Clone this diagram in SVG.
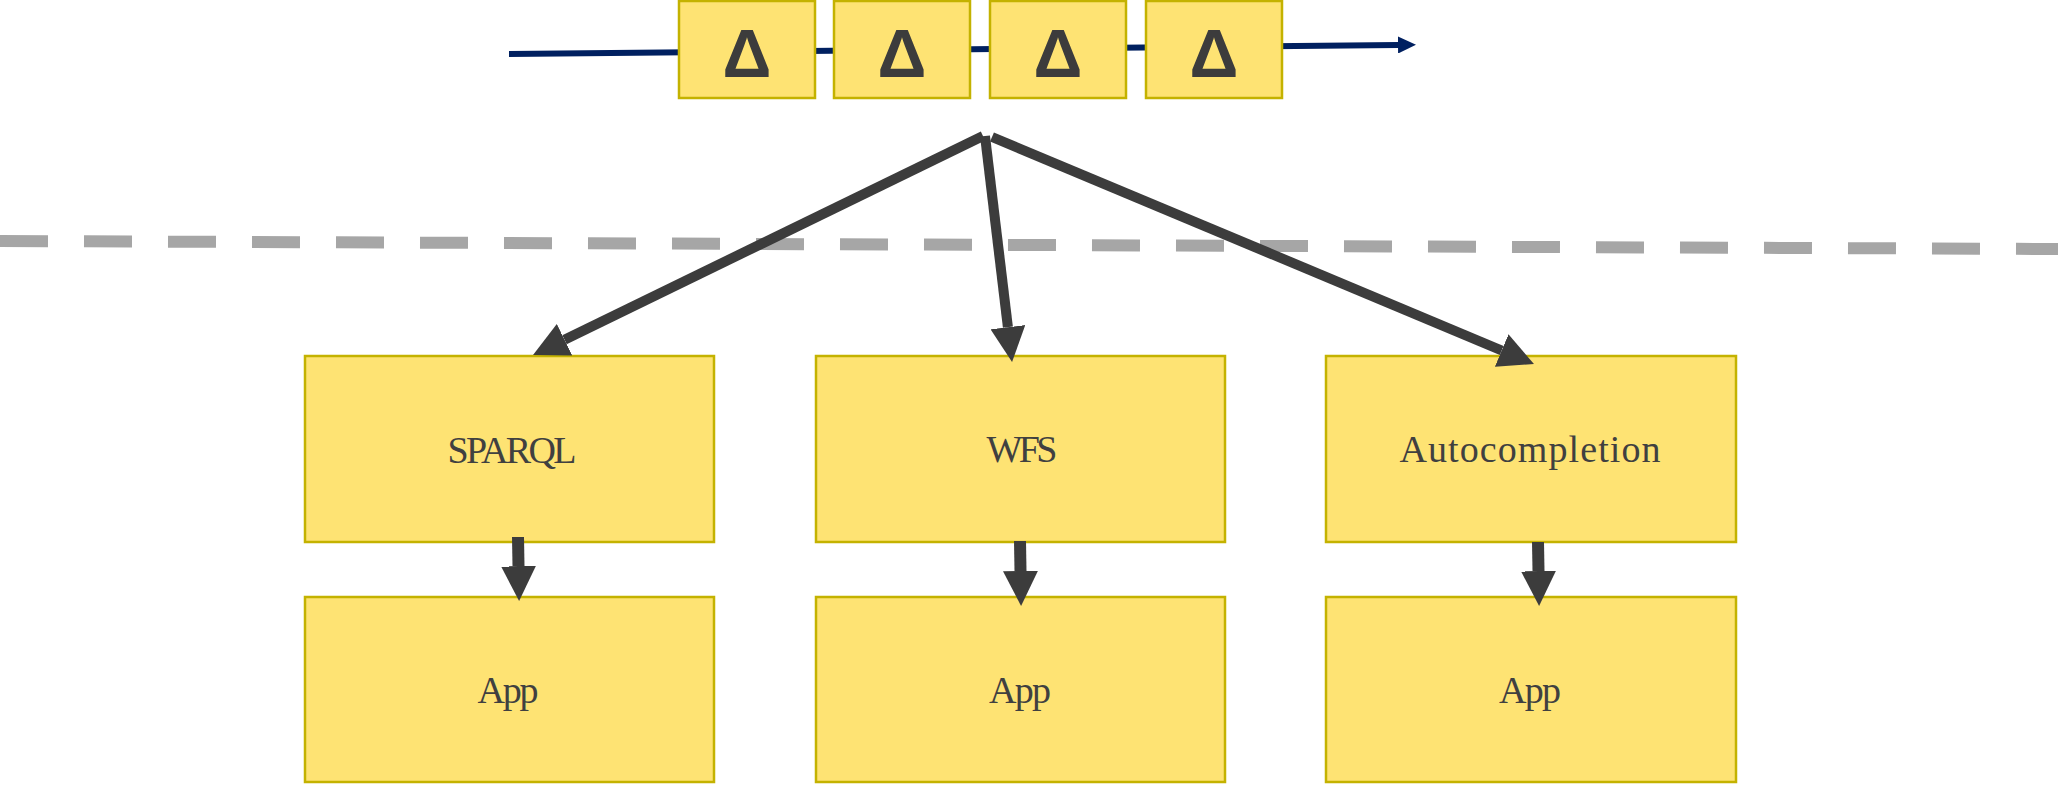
<svg xmlns="http://www.w3.org/2000/svg" width="2058" height="785" viewBox="0 0 2058 785">
<defs>
<style>
.box{fill:#FEE373;stroke:#C4B200;stroke-width:2.5}
.delta{font-family:"Liberation Sans",Arial,sans-serif;font-weight:bold;font-size:68px;fill:#3C3C3C;text-anchor:middle}
.lbl{font-family:"Liberation Serif","Times New Roman",serif;font-size:38px;fill:#404040;text-anchor:middle}
.conn{stroke:#3C3C3C;fill:none;stroke-width:10;marker-end:url(#ah)}
.stem{stroke:#3C3C3C;fill:none;stroke-width:12;marker-end:url(#ah)}
</style>
<marker id="ah" viewBox="0 -17.5 35 35" refX="0" refY="0" markerWidth="35" markerHeight="35" markerUnits="userSpaceOnUse" orient="auto">
<path d="M0,-17.5 L35,0 L0,17.5 Z" fill="#3C3C3C"/>
</marker>
<marker id="bh" viewBox="0 -8.5 18 17" refX="0" refY="0" markerWidth="18" markerHeight="17" markerUnits="userSpaceOnUse" orient="auto">
<path d="M0,-8.5 L18,0 L0,8.5 Z" fill="#002060"/>
</marker>
</defs>
<g id="divider">
<line x1="0" y1="241" x2="2058" y2="249" stroke="#A6A6A6" stroke-width="12" stroke-dasharray="48 36"/>
</g>
<g id="timeline">
<line x1="509" y1="54" x2="1398" y2="45" stroke="#002060" stroke-width="6" marker-end="url(#bh)"/>
</g>
<g id="delta1"><rect class="box" x="679" y="1" width="136" height="97"/><text class="delta" x="747" y="77">Δ</text></g>
<g id="delta2"><rect class="box" x="834" y="1" width="136" height="97"/><text class="delta" x="902" y="77">Δ</text></g>
<g id="delta3"><rect class="box" x="990" y="1" width="136" height="97"/><text class="delta" x="1058" y="77">Δ</text></g>
<g id="delta4"><rect class="box" x="1146" y="1" width="136" height="97"/><text class="delta" x="1214" y="77">Δ</text></g>
<g id="sparql"><rect class="box" x="305" y="356" width="409" height="186"/><text class="lbl" x="512" y="463" textLength="129" lengthAdjust="spacing">SPARQL</text></g>
<g id="wfs"><rect class="box" x="816" y="356" width="409" height="186"/><text class="lbl" x="1022" y="462" textLength="71" lengthAdjust="spacing">WFS</text></g>
<g id="autocompletion"><rect class="box" x="1326" y="356" width="410" height="186"/><text class="lbl" x="1530" y="462" textLength="261" lengthAdjust="spacing">Autocompletion</text></g>
<g id="app1"><rect class="box" x="305" y="597" width="409" height="185"/><text class="lbl" x="508" y="703" textLength="61" lengthAdjust="spacing">App</text></g>
<g id="app2"><rect class="box" x="816" y="597" width="409" height="185"/><text class="lbl" x="1020" y="703" textLength="62" lengthAdjust="spacing">App</text></g>
<g id="app3"><rect class="box" x="1326" y="597" width="410" height="185"/><text class="lbl" x="1530" y="703" textLength="62" lengthAdjust="spacing">App</text></g>
<g id="connectors">
<line class="conn" x1="983" y1="136" x2="564.5" y2="339.7"/>
<line class="conn" x1="985" y1="136" x2="1007.9" y2="327.2"/>
<line class="conn" x1="992" y1="137" x2="1501.7" y2="350.5"/>
<line class="stem" x1="518" y1="537" x2="518.5" y2="566"/>
<line class="stem" x1="1020" y1="541" x2="1020.5" y2="571"/>
<line class="stem" x1="1538" y1="542" x2="1538.5" y2="571"/>
</g>
</svg>
